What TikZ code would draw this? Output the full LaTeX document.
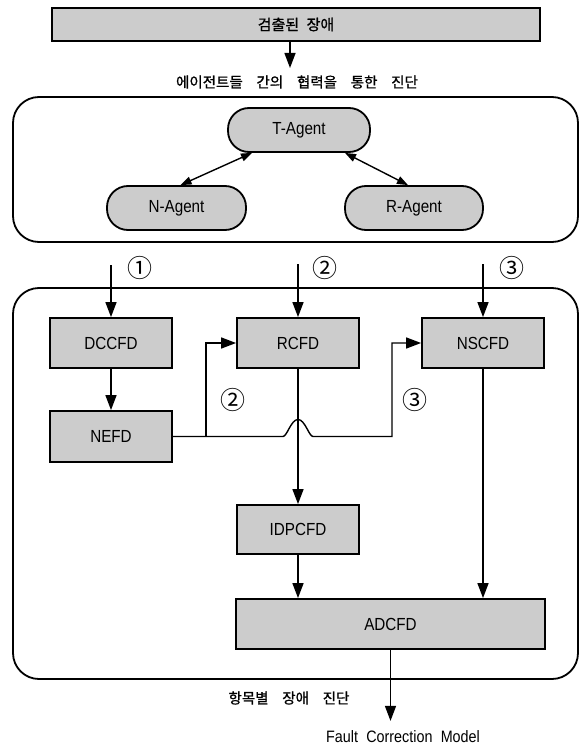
\documentclass[tikz,border=0pt]{standalone}
\usepackage{fontspec}
\setmainfont[FakeStretch=0.87]{Liberation Sans}
\newfontfamily\kr[FakeBold=1]{Noto Sans CJK KR}
\newfontfamily\krnum{Noto Sans CJK KR}
\usetikzlibrary{arrows.meta,calc}
\newcommand\ksp{\hspace{0.95em}}
\begin{document}
\begin{tikzpicture}[x=1pt,y=-1pt,
  fdbox/.style={draw, line width=1.8pt, fill=gray!40, minimum width=122pt, minimum height=50pt, inner sep=0pt, font=\fontsize{17.5}{19}\selectfont},
  pill/.style={draw, line width=1.8pt, fill=gray!40, rounded corners=21pt, minimum width=140pt, minimum height=44pt, inner sep=0pt, font=\fontsize{17.5}{19}\selectfont},
  frame/.style={draw, line width=1.8pt, rounded corners=26pt, inner sep=0pt},
  conn/.style={line width=1.4pt},
  arr/.style={conn, -{Triangle[length=15pt,width=11pt]}},
  darr/.style={line width=1.4pt, {Triangle[length=11pt,width=8pt]}-{Triangle[length=11pt,width=8pt]}},
  num/.style={font=\krnum\fontsize{25}{27}\selectfont, inner sep=0pt},
  krtext/.style={font=\kr\fontsize{14.5}{16}\selectfont, inner sep=0pt},
]
\useasboundingbox (0,0) rectangle (587,749);
\fill[white] (0,0) rectangle (587,749);

% top part
\node[fdbox, minimum width=488pt, minimum height=33pt, font=\kr\fontsize{15}{16}\selectfont] (top) at (296,24.5) {검출된\hspace{0.5em}장애};
\coordinate (topend) at (290,68);
\draw[arr] ([xshift=-6pt]top.south) -- (topend);
\node[krtext] (coop) at (297,82) {에이전트들\ksp 간의\ksp 협력을\ksp 통한\ksp 진단};

% agents frame
\node[frame, minimum width=565pt, minimum height=145pt] (box1) at (295.5,169.5) {};
\node[pill, minimum width=142pt] (T) at (299,130) {T-Agent};
\node[pill, minimum width=139pt] (N) at (176.5,208) {N-Agent};
\node[pill, minimum width=138pt] (R) at (414,208) {R-Agent};
\draw[darr] ([xshift=-47pt]T.south) -- ([xshift=4pt]N.north);
\draw[darr] ([xshift=46pt]T.south) -- ([xshift=-6pt]R.north);

% diagnosis frame
\node[frame, minimum width=565pt, minimum height=391pt] (box2) at (295.5,483.5) {};
\node[fdbox] (DCCFD) at (111,343) {DCCFD};
\node[fdbox] (RCFD) at (298,343) {RCFD};
\node[fdbox] (NSCFD) at (483,343) {NSCFD};
\node[fdbox, minimum height=51pt] (NEFD) at (111,436.5) {NEFD};
\node[fdbox, minimum height=49pt] (IDPCFD) at (298,529.5) {IDPCFD};
\node[fdbox, minimum width=309pt] (ADCFD) at (390.5,624) {ADCFD};

\node[num] (n1) at (140,268) {①};
\node[num] (n2) at (325,268) {②};
\node[num] (n3) at (512,268) {③};
\coordinate (s1) at (111,265);
\coordinate (s2) at (298,264);
\coordinate (s3) at (483,264);
\draw[arr] (s1) -- (DCCFD.north);
\draw[arr] (s2) -- (RCFD.north);
\draw[arr] (s3) -- (NSCFD.north);

\draw[arr] (DCCFD) -- (NEFD);
\draw[arr] (RCFD) -- (IDPCFD);
\draw[arr] (IDPCFD.south) -- (IDPCFD.south |- ADCFD.north);
\draw[arr] (NSCFD.south) -- (NSCFD.south |- ADCFD.north);

\coordinate (jc) at (RCFD.south |- NEFD.east);
\coordinate (br) at ([xshift=33pt]NEFD.east);
\draw[arr] (NEFD.east) -- ($(jc)+(-15,0)$)
   .. controls +(4,0) and +(-7,0) .. ($(jc)+(0,-17)$)
   .. controls +(7,0) and +(-4,0) .. ($(jc)+(15,0)$)
   -- ($(jc)+(94,0)$) |- (NSCFD.west);
\draw[arr] (br) |- (RCFD.west);
\node[num] (n2b) at (233,400) {②};
\node[num] (n3b) at (415,400) {③};

% output
\coordinate (outend) at ([yshift=-71pt]ADCFD.south);
\draw[arr] (ADCFD.south) -- (outend);
\node[krtext] (diag) at (289,698) {항목별\ksp 장애\ksp 진단};
\node[font=\fontsize{16.5}{18}\selectfont, inner sep=0pt] (fcm) at (403,737) {Fault\hspace{0.5em}Correction\hspace{0.5em}Model};
\end{tikzpicture}
\end{document}
